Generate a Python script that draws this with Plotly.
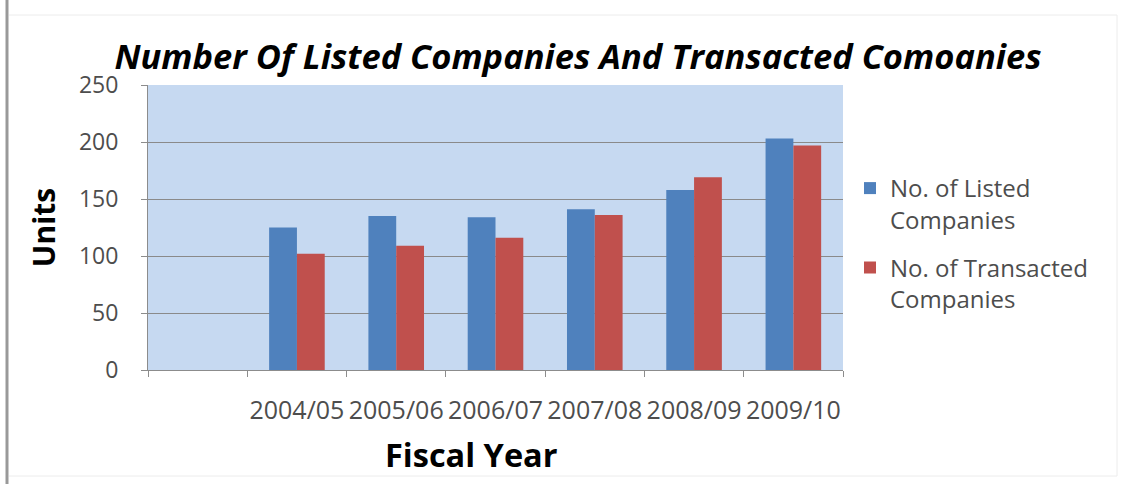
import plotly.graph_objects as go

# Fiscal years (first category slot is left empty on the axis)
fiscal_years = ["", "2004/05", "2005/06", "2006/07", "2007/08", "2008/09", "2009/10"]
listed_companies = [None, 125, 135, 134, 141, 158, 203]
transacted_companies = [None, 102, 109, 116, 136, 169, 197]

W, H = 1121, 484
ML, MR, MT, MB = 148, 278, 85, 114
PW, PH = W - ML - MR, H - MT - MB


def px_x(p):
    return (p - ML) / PW


def px_y(p):
    return (H - MB - p) / PH


fig = go.Figure()
fig.add_trace(go.Bar(
    x=fiscal_years, y=listed_companies,
    name="No. of Listed<br>Companies", legendgroup="listed",
    marker=dict(color="#4F81BD", line=dict(width=0)),
))
fig.add_trace(go.Bar(
    x=fiscal_years, y=transacted_companies,
    name="No. of Transacted<br>Companies", legendgroup="transacted",
    marker=dict(color="#C0504D", line=dict(width=0)),
))

grey_text = "#4d4d4d"

fig.update_layout(
    width=W, height=H,
    margin=dict(l=ML, r=MR, t=MT, b=MB),
    paper_bgcolor="white",
    plot_bgcolor="#C6D9F1",
    barmode="group",
    bargap=0.44,
    bargroupgap=0,
    font=dict(family="Open Sans", color=grey_text),
    title=dict(
        text="<b><i>Number Of Listed Companies And Transacted Comoanies</i></b>",
        font=dict(family="Open Sans", size=34.5, color="black"),
        x=578 / W, xanchor="center",
        y=1 - 57 / H, yanchor="middle",
    ),
    legend=dict(
        x=px_x(850), xanchor="left",
        y=px_y(166), yanchor="top",
        font=dict(family="Open Sans", size=24, color=grey_text),
        valign="top",
        tracegroupgap=14,
        bgcolor="rgba(0,0,0,0)",
    ),
    showlegend=True,
)

fig.update_xaxes(
    type="category",
    categoryorder="array", categoryarray=fiscal_years,
    tickson="boundaries",
    ticks="outside", ticklen=6, tickcolor="#8c8c8c",
    showline=True, linecolor="#8c8c8c", linewidth=1,
    showgrid=False,
    tickangle=0,
    tickfont=dict(family="Open Sans", size=25, color=grey_text),
    ticklabelstandoff=18,
)
fig.update_yaxes(
    range=[0, 250], dtick=50,
    ticks="outside", ticklen=6, tickcolor="#8c8c8c",
    showline=True, linecolor="#8c8c8c", linewidth=1,
    showgrid=True, gridcolor="#8a8a8a", gridwidth=1,
    zeroline=False,
    tickfont=dict(family="Open Sans", size=23, color=grey_text),
    ticklabelstandoff=18,
    title=dict(text="<b>Units</b>",
               font=dict(family="Open Sans", size=30, color="black"),
               standoff=14),
)

# x-axis title, set a little left of the plot centre
fig.add_annotation(
    text="<b>Fiscal Year</b>", showarrow=False,
    xref="paper", yref="paper",
    x=px_x(471), y=px_y(454), xanchor="center", yanchor="middle",
    font=dict(family="Open Sans", size=32.5, color="black"),
)

# outer frame around the chart area
fig.add_shape(type="line", xref="paper", yref="paper",
              x0=px_x(7), x1=px_x(7), y0=px_y(0), y1=px_y(H),
              line=dict(color="#999999", width=3))
fig.add_shape(type="line", xref="paper", yref="paper",
              x0=px_x(9), x1=px_x(1117), y0=px_y(15), y1=px_y(15),
              line=dict(color="#ececec", width=1))
fig.add_shape(type="line", xref="paper", yref="paper",
              x0=px_x(1117), x1=px_x(1117), y0=px_y(15), y1=px_y(476),
              line=dict(color="#ececec", width=1))
fig.add_shape(type="line", xref="paper", yref="paper",
              x0=px_x(9), x1=px_x(1117), y0=px_y(476), y1=px_y(476),
              line=dict(color="#ececec", width=1))

fig.write_html("out.html")
